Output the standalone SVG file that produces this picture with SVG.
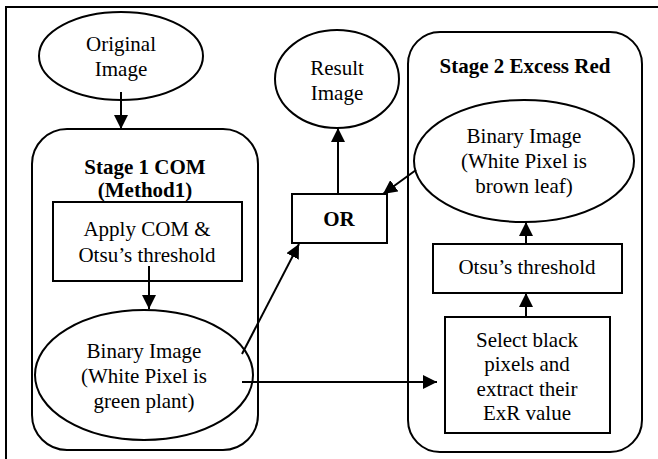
<svg xmlns="http://www.w3.org/2000/svg" width="658" height="459" viewBox="0 0 658 459">
<defs>
<marker id="ah" viewBox="0 0 14 14" refX="14" refY="7" markerWidth="14" markerHeight="14" markerUnits="userSpaceOnUse" orient="auto">
<path d="M0,0 L14,7 L0,14 Z" fill="#000"/>
</marker>
<style>
.s{fill:#fff;stroke:#000;stroke-width:2}
.t{font-family:"Liberation Serif","Times New Roman",serif;font-size:21px;fill:#000;text-anchor:middle}
.b{font-weight:bold}
.c{stroke:#000;stroke-width:2;fill:none;marker-end:url(#ah)}
</style>
</defs>
<rect width="658" height="459" fill="#fff"/>
<g id="frame"><path d="M6,459 L6,7 L658,7" fill="none" stroke="#000" stroke-width="2"/></g>
<g id="stage1">
<rect class="s" x="32" y="129" width="226" height="321" rx="35"/>
<text class="t b" x="145" y="174">Stage 1 COM</text>
<text class="t b" x="145" y="197">(Method1)</text>
</g>
<g id="stage2">
<rect class="s" x="408" y="32" width="234" height="420" rx="32"/>
<text class="t b" x="525" y="73">Stage 2 Excess Red</text>
</g>
<g id="original">
<ellipse class="s" cx="121" cy="56" rx="82" ry="44"/>
<text class="t" x="121" y="51">Original</text>
<text class="t" x="121" y="76">Image</text>
</g>
<g id="result">
<ellipse class="s" cx="337" cy="79" rx="62" ry="49"/>
<text class="t" x="337" y="75">Result</text>
<text class="t" x="337" y="100">Image</text>
</g>
<g id="apply">
<rect class="s" x="53" y="202" width="189" height="79"/>
<text class="t" x="147" y="236">Apply COM &amp;</text>
<text class="t" x="147" y="262">Otsu’s threshold</text>
</g>
<g id="binary1">
<ellipse class="s" cx="144" cy="375" rx="109" ry="65"/>
<text class="t" x="144" y="358">Binary Image</text>
<text class="t" x="144" y="383">(White Pixel is</text>
<text class="t" x="144" y="408">green plant)</text>
</g>
<g id="or">
<rect class="s" x="292" y="194" width="95" height="49"/>
<text class="t b" x="339" y="226">OR</text>
</g>
<g id="binary2">
<ellipse class="s" cx="524" cy="161" rx="110" ry="61"/>
<text class="t" x="524" y="143">Binary Image</text>
<text class="t" x="524" y="168">(White Pixel is</text>
<text class="t" x="524" y="193">brown leaf)</text>
</g>
<g id="otsu">
<rect class="s" x="433" y="244" width="189" height="49"/>
<text class="t" x="527" y="274">Otsu’s threshold</text>
</g>
<g id="select">
<rect class="s" x="445" y="317" width="165" height="116"/>
<text class="t" x="527" y="347">Select black</text>
<text class="t" x="527" y="371">pixels and</text>
<text class="t" x="527" y="396">extract their</text>
<text class="t" x="527" y="420">ExR value</text>
</g>
<g id="connectors">
<line class="c" x1="121" y1="92" x2="121" y2="129"/>
<line class="c" x1="149" y1="266" x2="149" y2="309"/>
<line class="c" x1="242" y1="354" x2="299" y2="244"/>
<line class="c" x1="242" y1="382" x2="437" y2="382"/>
<line class="c" x1="526" y1="317" x2="526" y2="293"/>
<line class="c" x1="526" y1="244" x2="526" y2="222"/>
<line class="c" x1="416" y1="170" x2="383" y2="194"/>
<line class="c" x1="338" y1="194" x2="338" y2="128"/>
</g>
</svg>
